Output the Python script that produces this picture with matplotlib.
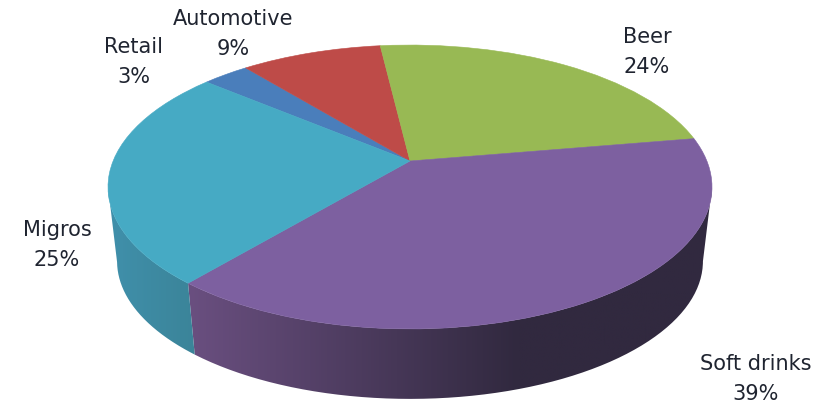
import numpy as np
import matplotlib
matplotlib.use('Agg')
import matplotlib.pyplot as plt
from matplotlib.path import Path
from matplotlib.patches import PathPatch
from matplotlib.transforms import Transform
from matplotlib.colors import to_rgb

# Pie data, clockwise from the Migros/Retail edge
categories = ['Retail', 'Automotive', 'Beer', 'Soft drinks', 'Migros']
values = [3, 9, 24.2, 38.8, 25]
colors = ['#4A7EBB', '#BE4B48', '#98B954', '#7D60A0', '#46AAC4']

# Label centres in pixels
label_x = [134, 233, 647, 756, 57]
label_y = [62, 34, 52, 379, 245]

# Shading of the side wall, left to right
wall_left = ['#3D7F9A', '#8A3836', '#6F883D', '#6A4F80', '#4090AB']
wall_right = ['#3D7F9A', '#8A3836', '#6F883D', '#31293F', '#3B8499']

start_angle = 140.0

# Tilted view of the pie
cx, cy = 410, 162
a, b, k = 296.9, 137.2, 0.183
bottom_y, bottom_scale = 237, 0.97


class TiltTransform(Transform):
    # unit circle -> pixel coords, centre of pie stays off the ellipse centre
    input_dims = 2
    output_dims = 2
    is_affine = False

    def __init__(self, x0, y0, scale=1.0):
        super().__init__()
        self.x0, self.y0, self.scale = x0, y0, scale

    def transform_non_affine(self, values):
        xy = np.asarray(values, dtype=float)
        w = 1 + k * xy[:, 1]
        return np.column_stack((self.x0 + self.scale * a * xy[:, 0] / w,
                                self.y0 - self.scale * b * xy[:, 1] / w))


fig = plt.figure(figsize=(8.27, 4.06), dpi=100)
ax = fig.add_axes([0, 0, 1, 1])

top = TiltTransform(cx, cy)
low = TiltTransform(cx, bottom_y, bottom_scale)

# Side walls, only the part that faces the viewer
edges = start_angle - 3.6 * np.concatenate(([0], np.cumsum(values)))
side = np.degrees(np.arcsin(k))
for i in range(len(values)):
    hi = min(edges[i], -side)
    lo = max(edges[i + 1], -180 + side)
    if hi <= lo:
        continue
    t = np.radians(np.linspace(hi, lo, 120))
    circle = np.column_stack((np.cos(t), np.sin(t)))
    outline = np.vstack((top.transform(circle), low.transform(circle)[::-1]))
    x0, x1 = outline[:, 0].min(), outline[:, 0].max()
    # purple wall gets dark by about x=520, then stays flat
    ramp = np.clip(np.linspace(0, 1, 256) * (x1 - x0) / min(x1 - x0, 330), 0, 1)
    grad = np.outer(1 - ramp, to_rgb(wall_left[i])) + np.outer(ramp, to_rgb(wall_right[i]))
    im = ax.imshow(grad[None, :, :], extent=(x0, x1, outline[:, 1].max(), outline[:, 1].min()),
                   aspect='auto', zorder=1)
    clip = PathPatch(Path(outline), transform=ax.transData, fc='none', ec='none')
    ax.add_patch(clip)
    im.set_clip_path(clip)

# Top face
wedges, _ = ax.pie(values, colors=colors, startangle=start_angle, counterclock=False,
                   radius=1, wedgeprops={'linewidth': 0.4, 'zorder': 2})
for w, c in zip(wedges, colors):
    w.set_transform(top + ax.transData)
    w.set_edgecolor(c)

for name, v, x, y in zip(categories, values, label_x, label_y):
    ax.text(x, y, '%s\n%.0f%%' % (name, v), ha='center', va='center', fontsize=15,
            color='#1F2430', linespacing=1.62, family='DejaVu Sans', zorder=3)

ax.set_aspect('auto')
ax.set_xlim(0, 827)
ax.set_ylim(406, 0)
ax.axis('off')
fig.savefig('out.png', dpi=100)
